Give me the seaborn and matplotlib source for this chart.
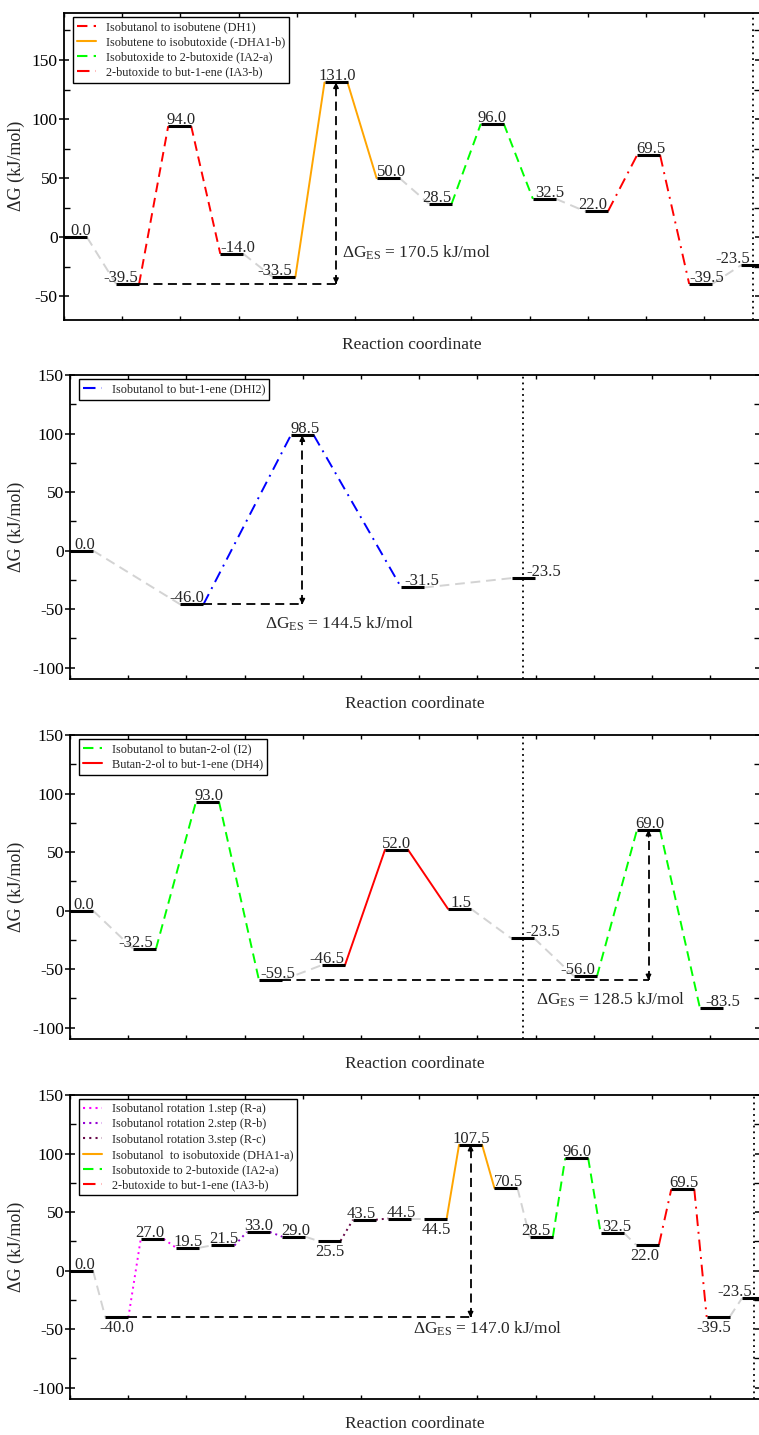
import matplotlib
matplotlib.use('Agg')
import matplotlib.pyplot as plt
from matplotlib.lines import Line2D
from matplotlib.ticker import MultipleLocator
import seaborn as sns

# ---- data (kJ/mol) ----
p1_energy = [0.0, -39.5, 94.0, -14.0, -33.5, 131.0, 50.0, 28.5, 96.0, 32.5, 22.0, 69.5, -39.5, -23.5]
p1_steps = ['grey', 'DH1', 'DH1', 'grey', 'DHA1b', 'DHA1b', 'grey', 'IA2a', 'IA2a', 'grey',
            'IA3b', 'IA3b', 'grey']
p1_legend = ['DH1', 'DHA1b', 'IA2a', 'IA3b']
p1_barrier = (1, 5, '170.5')

p2_energy = [0.0, -46.0, 98.5, -31.5, -23.5]
p2_steps = ['grey', 'DHI2', 'DHI2', 'grey']
p2_legend = ['DHI2']
p2_barrier = (1, 2, '144.5')

p3_energy = [0.0, -32.5, 93.0, -59.5, -46.5, 52.0, 1.5, -23.5, -56.0, 69.0, -83.5]
p3_steps = ['grey', 'I2', 'I2', 'grey', 'DH4', 'DH4', 'grey', 'grey', 'I2', 'I2']
p3_legend = ['I2', 'DH4']
p3_barrier = (3, 9, '128.5')

p4_energy = [0.0, -40.0, 27.0, 19.5, 21.5, 33.0, 29.0, 25.5, 43.5, 44.5, 44.5, 107.5, 70.5,
             28.5, 96.0, 32.5, 22.0, 69.5, -39.5, -23.5]
p4_steps = ['grey', 'Ra', 'Ra', 'grey', 'Rb', 'Rb', 'grey', 'Rc', 'Rc', 'grey', 'DHA1a', 'DHA1a',
            'grey', 'IA2a', 'IA2a', 'grey', 'IA3b', 'IA3b', 'grey']
p4_legend = ['Ra', 'Rb', 'Rc', 'DHA1a', 'IA2a', 'IA3b']
p4_barrier = (1, 11, '147.0')

LABELS = {
    'DH1': 'Isobutanol to isobutene (DH1)',
    'DHA1b': 'Isobutene to isobutoxide (-DHA1-b)',
    'IA2a': 'Isobutoxide to 2-butoxide (IA2-a)',
    'IA3b': '2-butoxide to but-1-ene (IA3-b)',
    'DHI2': 'Isobutanol to but-1-ene (DHI2)',
    'I2': 'Isobutanol to butan-2-ol (I2)',
    'DH4': 'Butan-2-ol to but-1-ene (DH4)',
    'Ra': 'Isobutanol rotation 1.step (R-a)',
    'Rb': 'Isobutanol rotation 2.step (R-b)',
    'Rc': 'Isobutanol rotation 3.step (R-c)',
    'DHA1a': 'Isobutanol  to isobutoxide (DHA1-a)',
}

DASH = (0, (5, 3))
DOT = (0, (1, 2))
DASHDOT = (0, (6, 3, 1, 3))
STYLES = {
    'grey': ('#d3d3d3', DASH),
    'DH1': ('#ff0000', DASH),
    'DHA1b': ('#ffa500', '-'),
    'DHA1a': ('#ffa500', '-'),
    'IA2a': ('#00ff00', DASH),
    'IA3b': ('#ff0000', DASHDOT),
    'DHI2': ('#0000ff', DASHDOT),
    'I2': ('#00ff00', DASH),
    'DH4': ('#ff0000', '-'),
    'Ra': ('#ff00ff', DOT),
    'Rb': ('#9400d3', DOT),
    'Rc': ('#670748', DOT),
}

# ---- layout (pixels of the 759x1435 figure) ----
PANELS = [
    dict(energy=p1_energy, steps=p1_steps, legend=p1_legend, barrier=p1_barrier,
         left=64, top=12.7, bottom=320, spacing=52.1, ylim=(-70, 190), dotted=13,
         dx=[5.5, -7, 1.5, 6, -9.5, 1, 3, -3, 0, 5.5, -4, 2, 6, -20], below=[],
         es_text=(341.7, -17)),
    dict(energy=p2_energy, steps=p2_steps, legend=p2_legend, barrier=p2_barrier,
         left=70, top=375, bottom=679.4, spacing=110.4, ylim=(-110, 150), dotted=4,
         dx=[3.5, -5.5, 2.5, 9, 21], below=[], es_text=(265, -67)),
    dict(energy=p3_energy, steps=p3_steps, legend=p3_legend, barrier=p3_barrier,
         left=70, top=735, bottom=1039.4, spacing=63.0, ylim=(-110, 150), dotted=7,
         dx=[2, -8.5, 1.5, 7.5, -6.6, 0, 1, 20.5, -8, 1, 11], below=[], es_text=(536, -80.6)),
    dict(energy=p4_energy, steps=p4_steps, legend=p4_legend, barrier=p4_barrier,
         left=70, top=1095, bottom=1399.4, spacing=35.37, ylim=(-110, 150), dotted=19,
         dx=[3.5, 0, -2, 0, 1, 0.5, 2, 1, -3.5, 1, 1, 1, 3, -5, 0, 4.5, -2.5, 1, -4.5, -18.5],
         below=[1, 7, 10, 16, 18], es_text=(413, -54)),
]
W, H = 759, 1435
RIGHT = 760
LEVEL_PX = 23
TICK_PX = 58.2
PT = 0.72  # points per pixel at 100 dpi

sns.set_theme(style='ticks')
plt.rcParams['font.family'] = ['Liberation Serif', 'DejaVu Serif']
plt.rcParams['mathtext.fontset'] = 'custom'
plt.rcParams['mathtext.rm'] = 'Liberation Serif'
plt.rcParams['mathtext.it'] = 'Liberation Serif:italic'
plt.rcParams['axes.unicode_minus'] = False

fig = plt.figure(figsize=(W / 100, H / 100), dpi=100)

for p in PANELS:
    width_px = RIGHT - p['left']
    height_px = p['bottom'] - p['top']
    ax = fig.add_axes([p['left'] / W, 1 - p['bottom'] / H, width_px / W, height_px / H])
    sp = p['spacing']
    w = LEVEL_PX / sp
    E = p['energy']
    xs = list(range(len(E)))

    # connectors
    for i, key in enumerate(p['steps']):
        color, ls = STYLES[key]
        sns.lineplot(x=[xs[i] + w, xs[i + 1]], y=[E[i], E[i + 1]], ax=ax, color=color,
                     linestyle=ls, linewidth=1.4, sort=False, estimator=None)

    # energy levels
    ax.hlines(E, xs, [x + w for x in xs], color='black', linewidth=2.2, zorder=5)

    # level labels
    for i, e in enumerate(E):
        if i in p['below']:
            ax.annotate(f'{e:.1f}', (xs[i] + w / 2, e), xytext=(p['dx'][i] * PT, -3 * PT),
                        textcoords='offset points', ha='center', va='top', fontsize=12)
        else:
            ax.annotate(f'{e:.1f}', (xs[i] + w / 2, e), xytext=(p['dx'][i] * PT, 2 * PT),
                        textcoords='offset points', ha='center', va='baseline', fontsize=12)

    # barrier annotation
    lo, hi, val = p['barrier']
    xa = xs[hi] + w / 2
    ax.plot([xs[lo] + w, xa], [E[lo], E[lo]], color='black', lw=1.3, linestyle=(0, (5, 3)))
    ax.plot([xa, xa], [E[lo], E[hi]], color='black', lw=1.3, linestyle=(0, (5, 3)))
    for y0, y1 in [(E[lo] + 6, E[lo]), (E[hi] - 6, E[hi])]:
        ax.annotate('', xy=(xa, y1), xytext=(xa, y0),
                    arrowprops=dict(arrowstyle='-|>', color='black', lw=1.0,
                                    mutation_scale=8, shrinkA=0, shrinkB=0))
    tx, ty = p['es_text']
    ax.text((tx - p['left']) / sp, ty, r'$\Delta$G$_\mathrm{ES}$ = ' + val + ' kJ/mol',
            ha='left', va='baseline', fontsize=12.5)

    # dotted reference line at the last state
    ax.axvline(xs[p['dotted']] + w / 2, color='black', lw=1.3, linestyle=(0, (1, 2.2)), zorder=1)

    # legend
    handles = [Line2D([], [], color=STYLES[k][0], linestyle=STYLES[k][1], lw=1.5)
               for k in p['legend']]
    leg = ax.legend(handles, [LABELS[k] for k in p['legend']], loc='upper left',
                    bbox_to_anchor=(8.6 / width_px, 1 - 4 / height_px), borderaxespad=0,
                    fontsize=8.8, frameon=True, fancybox=False, edgecolor='black',
                    framealpha=1, handlelength=1.6, handletextpad=0.75, labelspacing=0.26,
                    borderpad=0.35)
    leg.get_frame().set_linewidth(1.0)

    # axes
    ax.set_xlim(0, width_px / sp)
    ax.set_ylim(*p['ylim'])
    ax.xaxis.set_major_locator(MultipleLocator(TICK_PX / sp))
    ax.yaxis.set_major_locator(MultipleLocator(50))
    ax.yaxis.set_minor_locator(MultipleLocator(25))
    ax.tick_params(axis='x', which='major', direction='in', length=3, width=1,
                   top=True, bottom=True, labelbottom=False, colors='black')
    ax.tick_params(axis='y', which='major', direction='inout', length=7, width=1.1,
                   left=True, right=True, labelsize=12.5, pad=1, colors='black')
    ax.tick_params(axis='y', which='minor', direction='in', length=4, width=1,
                   left=True, right=True, colors='black')
    for s in ax.spines.values():
        s.set_color('black')
        s.set_linewidth(1.3)
    ax.set_ylabel('ΔG (kJ/mol)', fontsize=13)
    ax.yaxis.set_label_coords((25.5 - p['left']) / width_px, 0.5)
    ax.set_xlabel('Reaction coordinate', fontsize=12.5)
    ax.xaxis.set_label_coords(0.5 - (RIGHT - W) / 2 / width_px, -17 / height_px)

fig.savefig('out.png', dpi=100)
